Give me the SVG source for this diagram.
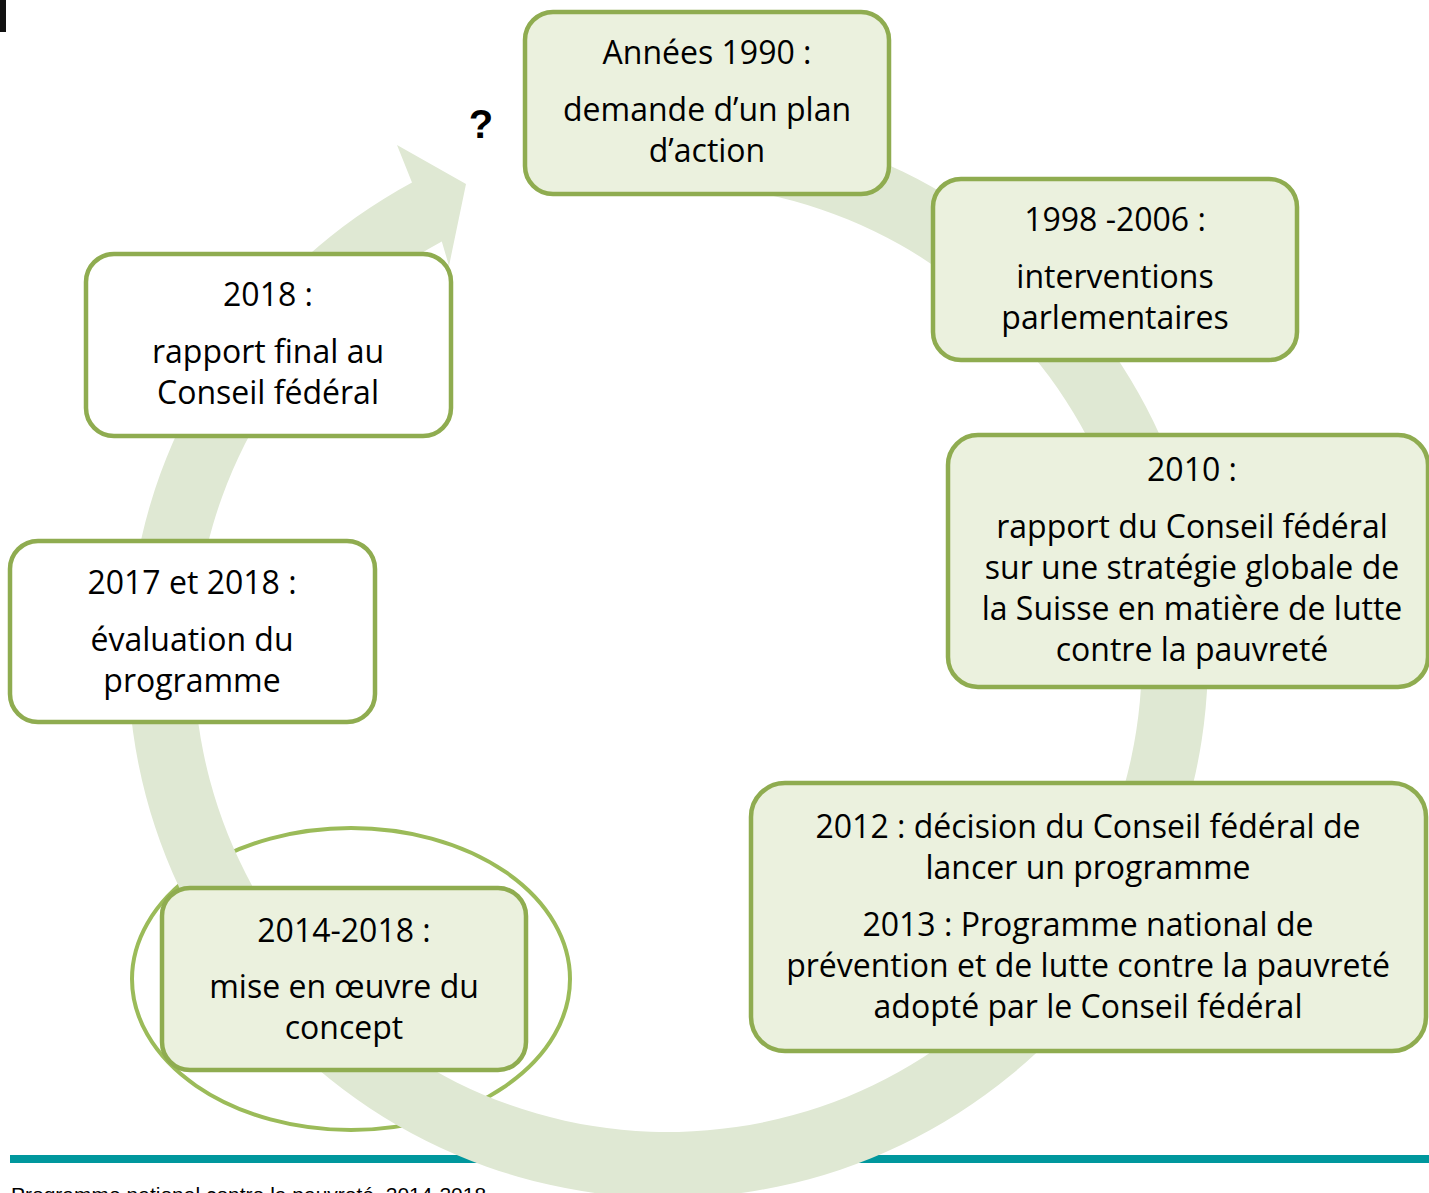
<svg xmlns="http://www.w3.org/2000/svg" width="1429" height="1193" viewBox="0 0 1429 1193">
<style>
.box{fill:#ebf1de;stroke:#8fac50;stroke-width:4.5}
.wbox{fill:#ffffff;stroke:#8fac50;stroke-width:4.5}
.t{font-family:"Open Sans","Noto Sans","Liberation Sans",sans-serif;font-size:32px;fill:#000;text-anchor:middle}
.band{fill:#dfe8d3;stroke:none}
</style>
<rect x="0" y="0" width="1429" height="1193" fill="#ffffff"/>
<rect x="0" y="0" width="6" height="32" fill="#111"/>
<rect x="10" y="1155" width="1419" height="8" fill="#00979d"/>
<text x="11" y="1202" font-family="Liberation Sans, Arial, sans-serif" font-size="21" fill="#000">Programme national contre la pauvreté, 2014-2018</text>
<g id="highlight">
<ellipse cx="351" cy="979" rx="219" ry="151" fill="none" stroke="#9bbb59" stroke-width="4"/>
</g>
<g id="connectors">
<path class="band" d="M 649.2 118.3 A 540 540 0 1 1 412.0 182.5 L 397 145 L 466 184 L 449 266 L 441.8 241.4 A 474 474 0 1 0 651.5 184.3 Z"/>
</g>
<text x="481" y="138" font-family="Liberation Sans, Arial, sans-serif" font-size="40" font-weight="bold" text-anchor="middle" fill="#000">?</text>
<g id="n1990">
<rect class="box" x="525" y="12" width="364" height="182" rx="28"/>
<text class="t" x="707" y="64">Années 1990 :</text>
<text class="t" x="707" y="121">demande d’un plan</text>
<text class="t" x="707" y="162">d’action</text>
</g>
<g id="n1998">
<rect class="box" x="933" y="179" width="364" height="181" rx="28"/>
<text class="t" x="1115" y="231">1998 -2006 :</text>
<text class="t" x="1115" y="288">interventions</text>
<text class="t" x="1115" y="329">parlementaires</text>
</g>
<g id="n2010">
<rect class="box" x="948" y="435" width="480" height="252" rx="30"/>
<text class="t" x="1192" y="481">2010 :</text>
<text class="t" x="1192" y="538">rapport du Conseil fédéral</text>
<text class="t" x="1192" y="579">sur une stratégie globale de</text>
<text class="t" x="1192" y="620">la Suisse en matière de lutte</text>
<text class="t" x="1192" y="661">contre la pauvreté</text>
</g>
<g id="n2012">
<rect class="box" x="751" y="783" width="675" height="268" rx="34"/>
<text class="t" x="1088" y="838">2012 : décision du Conseil fédéral de</text>
<text class="t" x="1088" y="879">lancer un programme</text>
<text class="t" x="1088" y="936">2013 : Programme national de</text>
<text class="t" x="1088" y="977">prévention et de lutte contre la pauvreté</text>
<text class="t" x="1088" y="1018">adopté par le Conseil fédéral</text>
</g>
<g id="n2014">
<rect class="box" x="162" y="888" width="364" height="182" rx="28"/>
<text class="t" x="344" y="942">2014-2018 :</text>
<text class="t" x="344" y="998">mise en œuvre du</text>
<text class="t" x="344" y="1039">concept</text>
</g>
<g id="n2017">
<rect class="wbox" x="10" y="541" width="365" height="181" rx="28"/>
<text class="t" x="192" y="594">2017 et 2018 :</text>
<text class="t" x="192" y="651">évaluation du</text>
<text class="t" x="192" y="692">programme</text>
</g>
<g id="n2018">
<rect class="wbox" x="86" y="254" width="365" height="182" rx="28"/>
<text class="t" x="268" y="306">2018 :</text>
<text class="t" x="268" y="363">rapport final au</text>
<text class="t" x="268" y="404">Conseil fédéral</text>
</g>
</svg>
